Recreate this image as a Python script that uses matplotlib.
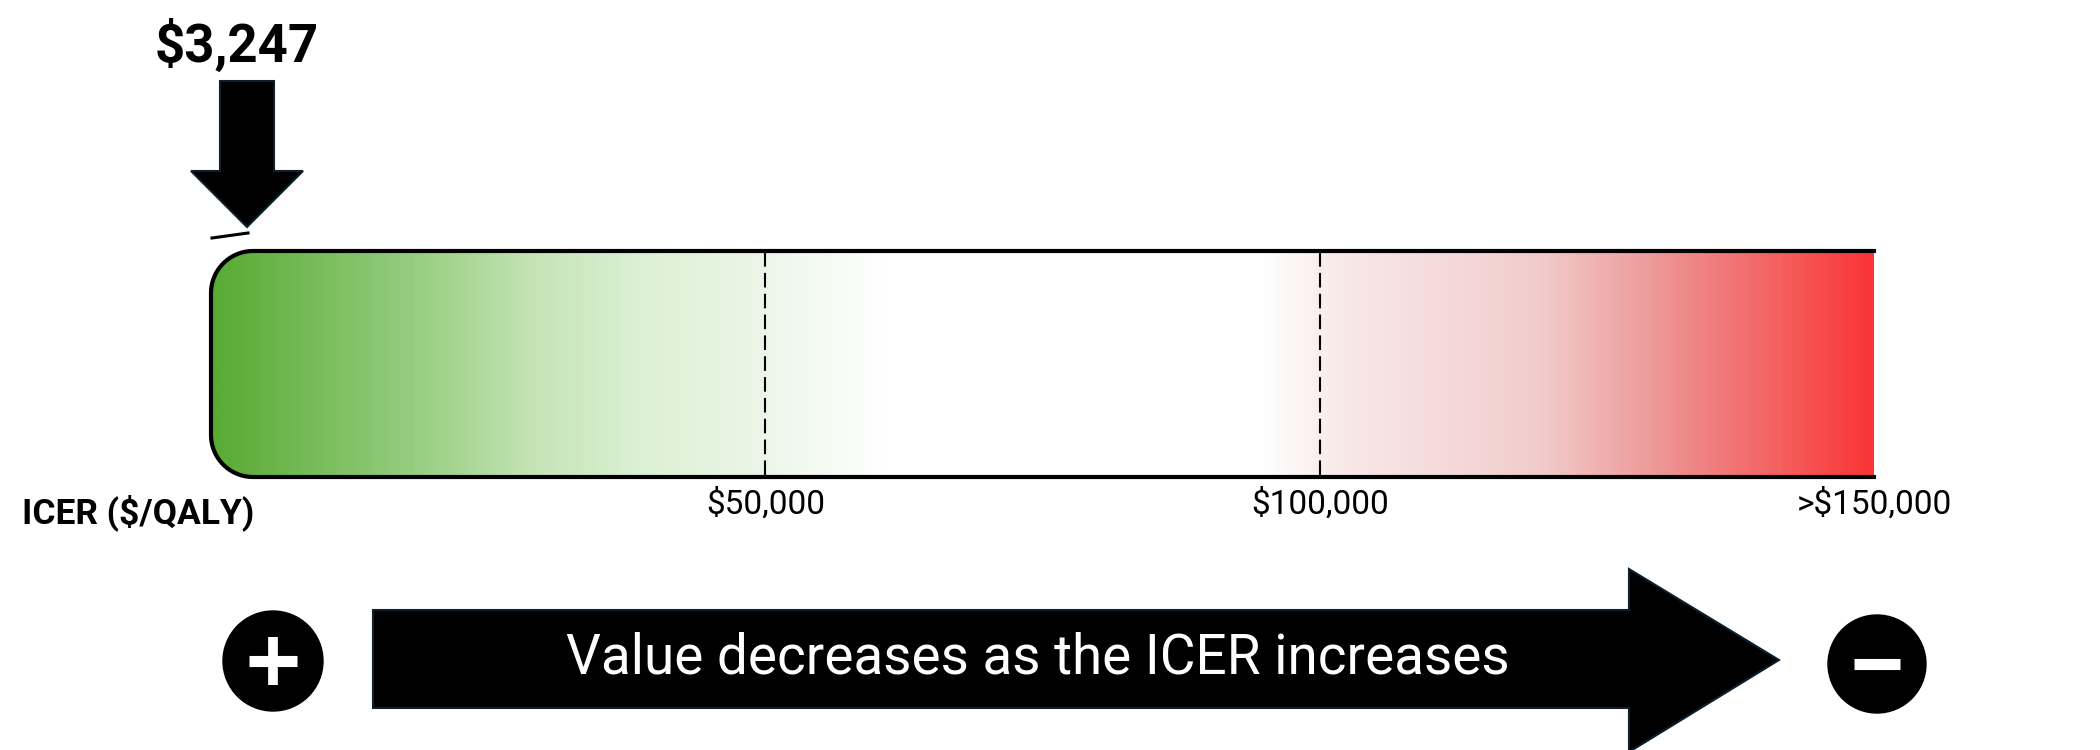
import matplotlib
matplotlib.use("Agg")
import matplotlib.pyplot as plt
import numpy as np
from matplotlib.colors import LinearSegmentedColormap
from matplotlib.patches import Polygon, Circle

# ICER scale data
icer_value = 3247
value_label = "$3,247"
scale_max = 150000
thresholds = [50000, 100000]
tick_values = [50000, 100000, 150000]
tick_labels = ["$50,000", "$100,000", ">$150,000"]
axis_title = "ICER ($/QALY)"
arrow_text = "Value decreases as the ICER increases"

# gradient stops (fraction of bar, colour)
grad_pos = [0.0, 0.115, 0.196, 0.26, 0.33, 0.406, 0.633, 0.681, 0.80, 0.883, 1.0]
grad_col = ["#58ab34", "#93cc7c", "#c6e5b8", "#dcf1d5", "#ebf6e7", "#ffffff",
            "#ffffff", "#f9e9e9", "#f2cccc", "#ee8f8f", "#fa3535"]

plt.rcParams["font.family"] = ["Roboto", "DejaVu Sans"]

W, H = 2100, 750
fig = plt.figure(figsize=(W / 100, H / 100), dpi=100)

# background axes in pixel units
bg = fig.add_axes([0, 0, 1, 1])
bg.set_xlim(0, W)
bg.set_ylim(H, 0)
bg.axis("off")

# bar axes in ICER units
bar_l, bar_t, bar_w, bar_h = 211, 251, 1663, 226
ax = fig.add_axes([bar_l / W, 1 - (bar_t + bar_h) / H, bar_w / W, bar_h / H])
ax.set_xlim(0, scale_max)
ax.set_ylim(0, 1)
ax.axis("off")

# rounded-left outline
r = 42
rx = r / bar_w * scale_max
ry = r / bar_h
t1 = np.linspace(1.5 * np.pi, np.pi, 20)
t2 = np.linspace(np.pi, 0.5 * np.pi, 20)
xs = np.concatenate([[scale_max], rx + rx * np.cos(t1), rx + rx * np.cos(t2), [scale_max]])
ys = np.concatenate([[0], ry + ry * np.sin(t1), 1 - ry + ry * np.sin(t2), [1]])

cmap = LinearSegmentedColormap.from_list("icer", list(zip(grad_pos, grad_col)))
grad = np.linspace(0, 1, 600)[None, :]
im = ax.imshow(grad, cmap=cmap, extent=[0, scale_max, 0, 1], aspect="auto", zorder=1)
clip = Polygon(np.column_stack([xs, ys]), closed=True, transform=ax.transData,
               facecolor="none", edgecolor="none")
ax.add_patch(clip)
im.set_clip_path(clip)
ax.plot(xs, ys, color="black", lw=3, zorder=3, clip_on=False,
        solid_joinstyle="round")

for v in thresholds:
    ax.plot([v, v], [0.01, 0.99], color="black", lw=1.5,
            linestyle=(0, (7, 3)), zorder=2)

for v, lab in zip(tick_values, tick_labels):
    ax.text(v, -0.05, lab, ha="center", va="top", fontsize=24,
            fontweight="normal", color="black", clip_on=False)

bg.text(22, 513, axis_title, ha="left", va="center", fontsize=25.5,
        fontweight="bold", color="black")

# value marker arrow, x position taken from the bar scale
fig.canvas.draw()
tip_x = bg.transData.inverted().transform(ax.transData.transform((icer_value, 0)))[0]
tip_y = 227
down = [(tip_x - 27, 81), (tip_x + 27, 81), (tip_x + 27, 171), (tip_x + 56, 171),
        (tip_x, tip_y), (tip_x - 56, 171), (tip_x - 27, 171)]
bg.add_patch(Polygon(down, closed=True, facecolor="black", edgecolor="#0b1f2e", lw=1.5))
bg.plot([tip_x - 35, tip_x + 1], [238, 233], color="black", lw=2.2)
bg.text(tip_x - 10, 62, value_label, ha="center", va="baseline", fontsize=38,
        fontweight="bold", color="black")

# big direction arrow
big = [(373, 610), (1629, 610), (1629, 569), (1779, 660), (1629, 752),
       (1629, 708), (373, 708)]
bg.add_patch(Polygon(big, closed=True, facecolor="black", edgecolor="#0b1f2e", lw=1.5))
bg.text(1038, 673, arrow_text, ha="center", va="baseline", fontsize=39.5,
        fontweight="normal", color="white")

# plus / minus circles
bg.add_patch(Circle((273, 661), 50, color="black"))
bg.plot([249, 297], [661, 661], color="white", lw=8, solid_capstyle="butt")
bg.plot([273, 273], [637, 685], color="white", lw=7, solid_capstyle="butt")
bg.add_patch(Circle((1877, 664), 49, color="black"))
bg.plot([1854, 1900], [664, 664], color="white", lw=8, solid_capstyle="butt")

fig.savefig("out.png", dpi=100, facecolor="white")
